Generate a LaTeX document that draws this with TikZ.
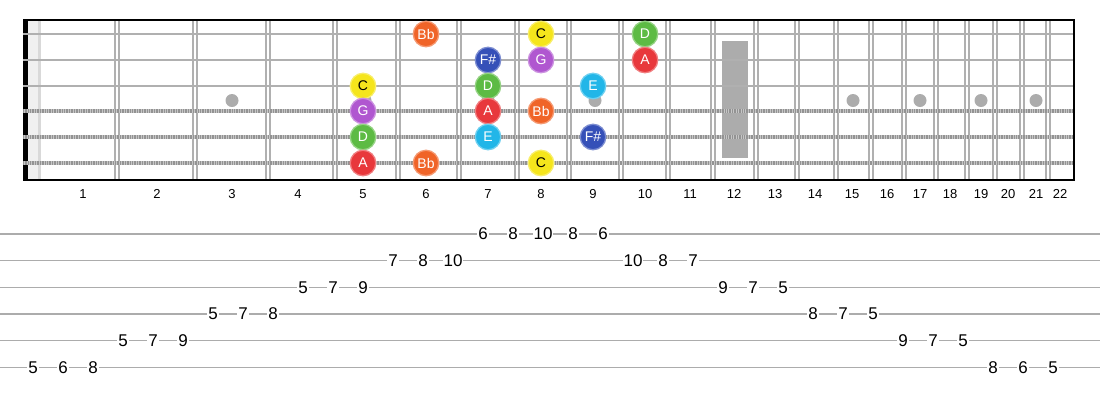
\documentclass[tikz,border=0pt]{standalone}
\usepackage{fontspec}
\setmainfont{Liberation Sans}
\definecolor{noteBb}{HTML}{F06428}
\definecolor{noteC}{HTML}{F5E51C}
\definecolor{noteD}{HTML}{5DBB44}
\definecolor{noteE}{HTML}{22B6E8}
\definecolor{noteFs}{HTML}{3550B8}
\definecolor{noteG}{HTML}{B057D0}
\definecolor{noteA}{HTML}{E8383C}
\begin{document}
\begin{tikzpicture}[x=1pt, y=-1pt,
    fretwire/.style={draw=gray!62, line width=1.5pt},
    plainstring/.style={draw=gray!62, line width=2.8pt},
    woundstring/.style={draw=gray!45, line width=3.6pt},
    woundtex/.style={draw=gray!85, line width=3.6pt, dash pattern=on 0.8pt off 0.9pt},
    tabline/.style={draw=gray!65, line width=1.3pt},
    fretnum/.style={font=\fontsize{13}{13}\selectfont},
    notedot/.style={circle, minimum size=25.5pt, inner sep=0pt, line width=1.3pt,
      font=\fontsize{14}{14}\selectfont},
    tabnum/.style={fill=white, inner sep=1pt, font=\fontsize{17}{17}\selectfont}]
  \useasboundingbox (0,0) rectangle (1100,400);
  % nut
  \fill[gray!12] (28,20) rectangle (38,180);
  \fill[gray!30] (38,20) rectangle (41,180);
  \fill[black] (23,20) rectangle (28,180);
  % frets
  \foreach \x in {117,195,268,335,398,459,517,569,621,668,713,756,797,836,871,904,936,967,995,1022,1048}{
    \draw[fretwire] (\x-1.8,20) -- (\x-1.8,180);
    \draw[fretwire] (\x+1.8,20) -- (\x+1.8,180);
  }
  % inlays
  \foreach \x in {232,365,488,595,853,920,981,1036}
    \fill[gray!65] (\x,100.5) circle (6.5);
  \fill[gray!65] (722,41) rectangle (748,158);
  % strings
  \foreach \y in {34,60,86}
    \draw[plainstring] (23,\y) -- (1074,\y);
  \foreach \y in {111,137,163}{
    \draw[woundstring] (23,\y) -- (1074,\y);
    \draw[woundtex] (23,\y) -- (1074,\y);
  }
  % border
  \draw[line width=2pt] (23,20) -- (1074,20);
  \draw[line width=2pt] (23,180) -- (1074,180);
  \draw[line width=1.5pt] (1074,19) -- (1074,181);
  % fret numbers
  \foreach \n/\x in {1/83,2/157,3/232,4/298,5/363,6/426,7/488,8/541,9/593,10/645,11/690,
      12/734,13/775,14/815,15/852,16/887,17/920,18/950,19/981,20/1008,21/1036,22/1060}
    \node[fretnum] (fn\n) at (\x,194) {\n};
  % scale notes
  \foreach \nm/\x/\y/\col/\tc/\lbl in {
      bb1/426/34/noteBb/white/Bb, c1/541/34/noteC/black/C, d1/645/34/noteD/white/D,
      fs2/488/60/noteFs/white/F\#, g2/541/60/noteG/white/G, a2/645/60/noteA/white/A,
      c3/363/86/noteC/black/C, d3/488/86/noteD/white/D, e3/593/86/noteE/white/E,
      g4/363/111/noteG/white/G, a4/488/111/noteA/white/A, bb4/541/111/noteBb/white/Bb,
      d5/363/137/noteD/white/D, e5/488/137/noteE/white/E, fs5/593/137/noteFs/white/F\#,
      a6/363/163/noteA/white/A, bb6/426/163/noteBb/white/Bb, c6/541/163/noteC/black/C}
    \node[notedot, fill=\col, draw=\col!65!white, text=\tc] (\nm) at (\x,\y) {\lbl};
  % tab staff
  \foreach \s in {1,...,6}
    \draw[tabline] (0,{234+(\s-1)*26.7}) -- (1100,{234+(\s-1)*26.7});
  \foreach \k/\s/\v in {0/6/5,1/6/6,2/6/8,3/5/5,4/5/7,5/5/9,6/4/5,7/4/7,8/4/8,
      9/3/5,10/3/7,11/3/9,12/2/7,13/2/8,14/2/10,15/1/6,16/1/8,17/1/10,18/1/8,19/1/6,
      20/2/10,21/2/8,22/2/7,23/3/9,24/3/7,25/3/5,26/4/8,27/4/7,28/4/5,
      29/5/9,30/5/7,31/5/5,32/6/8,33/6/6,34/6/5}
    \node[tabnum] (t\k) at ({33+30*\k},{234+(\s-1)*26.7}) {\v};
\end{tikzpicture}
\end{document}
